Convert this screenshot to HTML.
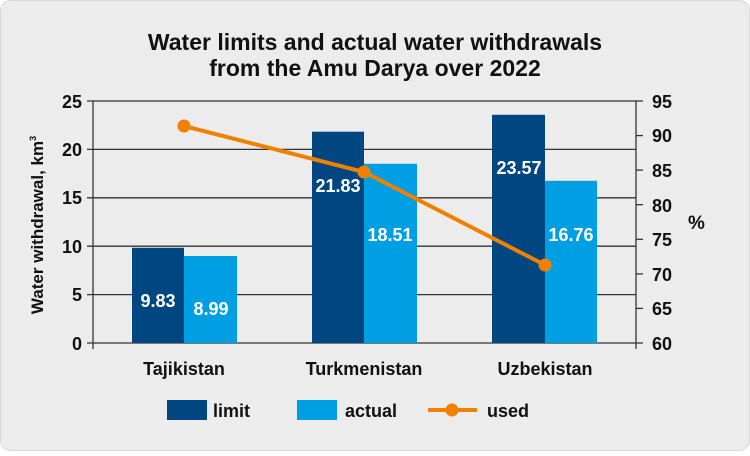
<!DOCTYPE html>
<html><head><style>
body{margin:0;background:#fff}
svg text{font-family:"Liberation Sans",sans-serif;font-weight:bold}
</style></head><body>
<svg width="750" height="451" viewBox="0 0 750 451" xmlns="http://www.w3.org/2000/svg">
<rect x="0.5" y="0.5" width="749" height="450" rx="10" fill="#ececec" stroke="#d8d8d8"/>
<text x="375" y="50" font-size="23" text-anchor="middle" fill="#111">Water limits and actual water withdrawals</text>
<text x="375" y="76" font-size="23" text-anchor="middle" fill="#111">from the Amu Darya over 2022</text>
<g stroke="#333" stroke-width="1.3">
<line x1="87" y1="101" x2="636" y2="101"/>
<line x1="87" y1="149.4" x2="636" y2="149.4"/>
<line x1="87" y1="197.8" x2="636" y2="197.8"/>
<line x1="87" y1="246.2" x2="636" y2="246.2"/>
<line x1="87" y1="294.6" x2="636" y2="294.6"/>
<line x1="87" y1="343" x2="636" y2="343"/>
<line x1="93" y1="101" x2="93" y2="349"/>
<line x1="636" y1="101" x2="636" y2="349"/>
<line x1="636" y1="101" x2="643" y2="101"/><line x1="636" y1="135.6" x2="643" y2="135.6"/>
<line x1="636" y1="170.1" x2="643" y2="170.1"/><line x1="636" y1="204.7" x2="643" y2="204.7"/>
<line x1="636" y1="239.3" x2="643" y2="239.3"/><line x1="636" y1="273.9" x2="643" y2="273.9"/>
<line x1="636" y1="308.4" x2="643" y2="308.4"/><line x1="636" y1="343" x2="643" y2="343"/>
</g>
<g fill="#004680">
<rect x="132" y="247.8" width="52" height="95.2"/>
<rect x="312" y="131.7" width="52" height="211.3"/>
<rect x="492" y="114.8" width="53" height="228.2"/>
</g>
<g fill="#009fe3">
<rect x="184" y="256" width="53" height="87"/>
<rect x="364" y="163.8" width="53" height="179.2"/>
<rect x="545" y="180.8" width="52" height="162.2"/>
</g>
<g fill="#fff" font-size="18" text-anchor="middle">
<text x="158" y="307">9.83</text><text x="211" y="315">8.99</text>
<text x="338" y="192">21.83</text><text x="390" y="241">18.51</text>
<text x="519" y="174">23.57</text><text x="571" y="241">16.76</text>
</g>
<polyline points="184,126 364,172 545,265" fill="none" stroke="#f08100" stroke-width="4"/>
<g fill="#f08100"><circle cx="184" cy="126" r="6.5"/><circle cx="364" cy="172" r="6.5"/><circle cx="545" cy="265" r="6.5"/></g>
<g font-size="18" fill="#111" text-anchor="end">
<text x="82" y="108">25</text><text x="82" y="156">20</text><text x="82" y="204">15</text>
<text x="82" y="253">10</text><text x="82" y="301">5</text><text x="82" y="350">0</text>
</g>
<g font-size="18" fill="#111">
<text x="652" y="108">95</text><text x="652" y="142">90</text><text x="652" y="177">85</text>
<text x="652" y="212">80</text><text x="652" y="246">75</text><text x="652" y="281">70</text>
<text x="652" y="315">65</text><text x="652" y="350">60</text>
<text x="688" y="229" font-weight="normal" font-size="19">%</text>
</g>
<text transform="translate(43,225) rotate(-90)" font-size="17" fill="#111" text-anchor="middle">Water withdrawal, km<tspan font-size="9" dy="-7">3</tspan></text>
<g font-size="18" fill="#111" text-anchor="middle">
<text x="184" y="375">Tajikistan</text><text x="364" y="375">Turkmenistan</text><text x="545" y="375">Uzbekistan</text>
</g>
<rect x="167" y="400" width="40" height="20" fill="#004680"/>
<text x="213" y="417" font-size="18" fill="#111">limit</text>
<rect x="297" y="400" width="40" height="20" fill="#009fe3"/>
<text x="345" y="417" font-size="18" fill="#111">actual</text>
<line x1="428" y1="410" x2="477" y2="410" stroke="#f08100" stroke-width="4"/>
<circle cx="452" cy="410" r="6.5" fill="#f08100"/>
<text x="487" y="417" font-size="18" fill="#111">used</text>
</svg>
</body></html>
